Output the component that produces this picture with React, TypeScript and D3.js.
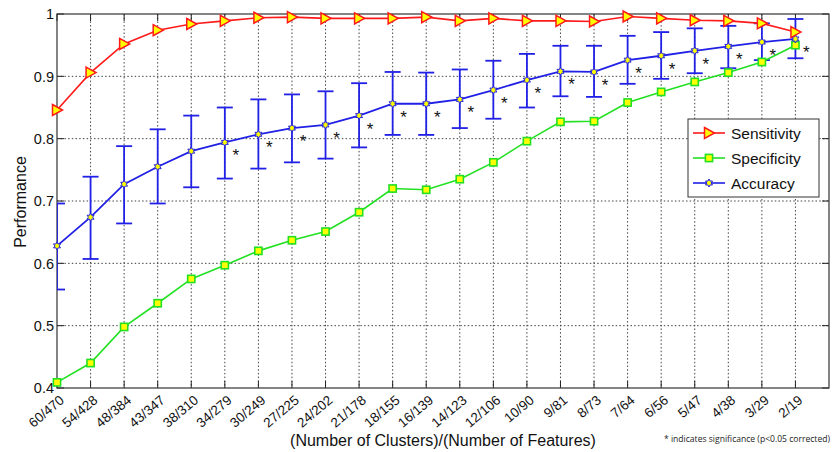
import React from 'react';
import * as d3 from 'd3';

const categories = ["60/470","54/428","48/384","43/347","38/310","34/279","30/249","27/225","24/202","21/178","18/155","16/139","14/123","12/106","10/90","9/81","8/73","7/64","6/56","5/47","4/38","3/29","2/19"];
const sensitivity = [0.846,0.906,0.952,0.974,0.984,0.989,0.994,0.995,0.993,0.993,0.993,0.995,0.989,0.993,0.989,0.989,0.988,0.996,0.993,0.990,0.989,0.985,0.971];
const specificity = [0.409,0.440,0.498,0.536,0.575,0.597,0.620,0.637,0.651,0.682,0.720,0.718,0.735,0.762,0.796,0.827,0.828,0.858,0.875,0.891,0.906,0.923,0.950];
const accuracy = [0.628,0.674,0.727,0.755,0.780,0.794,0.807,0.817,0.822,0.837,0.856,0.856,0.863,0.878,0.894,0.908,0.907,0.926,0.933,0.941,0.948,0.955,0.960];
const accuracyUpper = [0.696,0.739,0.788,0.815,0.837,0.850,0.863,0.871,0.876,0.889,0.907,0.906,0.911,0.925,0.936,0.949,0.949,0.965,0.971,0.977,0.981,0.985,0.992];
const accuracyLower = [0.558,0.607,0.664,0.696,0.722,0.736,0.752,0.762,0.768,0.786,0.806,0.806,0.817,0.832,0.850,0.868,0.867,0.888,0.896,0.905,0.913,0.926,0.929];
const significant = [false,false,false,false,false,true,true,true,true,true,true,true,true,true,true,true,true,true,true,true,true,true,true];
const yTicks = [0.4,0.5,0.6,0.7,0.8,0.9,1];
const yTickLabels = ["0.4","0.5","0.6","0.7","0.8","0.9","1"];
const legendLabels = ["Sensitivity","Specificity","Accuracy"];

const W = 837, H = 452;
const L = 57, R = 829, T = 14, B = 388;
const FONT = "'Liberation Sans', Arial, Helvetica, sans-serif";
const RED = "#ff1a1a", GREEN = "#22e022", BLUE = "#2020e6", YEL = "#ffff00";

function hexagram(r: number) {
  const pts: string[] = [];
  for (let k = 0; k < 12; k++) {
    const a = -Math.PI / 2 + (k * Math.PI) / 6;
    const rr = k % 2 === 0 ? r : r * 0.55;
    pts.push(`${(rr * Math.cos(a)).toFixed(2)},${(rr * Math.sin(a)).toFixed(2)}`);
  }
  return "M" + pts.join("L") + "Z";
}
function triRight(s: number) {
  return `M${-s * 0.45},${-s * 0.55}L${s * 0.55},0L${-s * 0.45},${s * 0.55}Z`;
}

function Marker({ kind, x, y }: { kind: string; x: number; y: number }) {
  if (kind === "tri") return <path d={triRight(10)} transform={`translate(${x},${y})`} fill={YEL} stroke={RED} strokeWidth={1.5} />;
  if (kind === "sq") return <rect x={x - 3.6} y={y - 3.6} width={7.2} height={7.2} fill={YEL} stroke={GREEN} strokeWidth={1.6} />;
  return <path d={hexagram(4)} transform={`translate(${x},${y})`} fill={YEL} stroke={BLUE} strokeWidth={1} />;
}

export default function App() {
  const x = d3.scaleLinear().domain([0, 23]).range([L, R]);
  const y = d3.scaleLinear().domain([0.4, 1]).range([B, T]);
  const idx = categories.map((_, i) => i);
  const line = d3.line<number>().x((_, i) => x(i)).y(d => y(d));
  const capW = 8;
  const grid = "#444";
  const dash = "1.5,2.2";
  const legX = 688, legY = 119, legW = 131, legH = 78;
  const legendKinds = ["tri", "sq", "hex"];
  const legendColors = [RED, GREEN, BLUE];
  return (
    <svg width={W} height={H} style={{ position: "absolute", left: 0, top: 0, background: "#fff" }} fontFamily={FONT}>
      <defs>
        <clipPath id="plotclip"><rect x={L} y={T} width={R - L} height={B - T} /></clipPath>
      </defs>
      <rect x={0} y={0} width={W} height={H} fill="#fff" />
      {/* grid */}
      {idx.slice(1).map(i => (
        <line key={"gv" + i} x1={x(i)} x2={x(i)} y1={T} y2={B} stroke={grid} strokeWidth={1} strokeDasharray={dash} />
      ))}
      {yTicks.slice(1, -1).map(v => (
        <line key={"gh" + v} x1={L} x2={R} y1={y(v)} y2={y(v)} stroke={grid} strokeWidth={1} strokeDasharray={dash} />
      ))}
      {/* ticks */}
      {idx.map(i => (
        <g key={"tx" + i}>
          <line x1={x(i)} x2={x(i)} y1={B} y2={B - 7} stroke="#222" />
          <line x1={x(i)} x2={x(i)} y1={T} y2={T + 7} stroke="#222" />
        </g>
      ))}
      {yTicks.map(v => (
        <g key={"ty" + v}>
          <line x1={L} x2={L + 7} y1={y(v)} y2={y(v)} stroke="#222" />
          <line x1={R} x2={R - 7} y1={y(v)} y2={y(v)} stroke="#222" />
        </g>
      ))}
      <rect x={L} y={T} width={R - L} height={B - T} fill="none" stroke="#333" strokeWidth={1.2} />
      {/* y tick labels */}
      {yTicks.map((v, k) => (
        <text key={"yl" + v} x={L - 3} y={y(v)} dy="0.36em" textAnchor="end" fontSize={14.5} fill="#111">{yTickLabels[k]}</text>
      ))}
      {/* x tick labels */}
      {categories.map((c, i) => (
        <text key={"xl" + i} transform={`translate(${x(i) + 5},${B + 10}) rotate(-40)`} dy="0.35em" textAnchor="end" fontSize={13.5} fill="#111">{c}</text>
      ))}
      <text x={(L + R) / 2} y={446} textAnchor="middle" fontSize={16} fill="#111">(Number of Clusters)/(Number of Features)</text>
      <text transform={`translate(26,202) rotate(-90)`} textAnchor="middle" fontSize={16} fill="#111">Performance</text>
      <text x={664} y={442} fontSize={8.8} fontFamily="'Open Sans', 'Noto Sans', sans-serif" fill="#222" textLength={166} lengthAdjust="spacingAndGlyphs">* indicates significance (p&lt;0.05 corrected)</text>
      {/* error bars */}
      <g clipPath="url(#plotclip)" stroke={BLUE} strokeWidth={1.8}>
        {idx.map(i => (
          <g key={"eb" + i}>
            <line x1={x(i)} x2={x(i)} y1={y(accuracyUpper[i])} y2={y(accuracyLower[i])} />
            <line x1={x(i) - capW} x2={x(i) + capW} y1={y(accuracyUpper[i])} y2={y(accuracyUpper[i])} />
            <line x1={x(i) - capW} x2={x(i) + capW} y1={y(accuracyLower[i])} y2={y(accuracyLower[i])} />
          </g>
        ))}
      </g>
      {/* lines */}
      <path d={line(specificity) || ""} fill="none" stroke={GREEN} strokeWidth={1.6} />
      <path d={line(accuracy) || ""} fill="none" stroke={BLUE} strokeWidth={1.8} />
      <path d={line(sensitivity) || ""} fill="none" stroke={RED} strokeWidth={1.6} />
      {idx.map(i => <Marker key={"ms" + i} kind="sq" x={x(i)} y={y(specificity[i])} />)}
      {idx.map(i => <Marker key={"ma" + i} kind="hex" x={x(i)} y={y(accuracy[i])} />)}
      {idx.map(i => <Marker key={"mt" + i} kind="tri" x={x(i)} y={y(sensitivity[i])} />)}
      {/* significance asterisks */}
      {idx.filter(i => significant[i]).map(i => (
        <text key={"st" + i} x={x(i) + 11} y={y(accuracy[i]) + 19} textAnchor="middle" fontSize={17} fill="#111">*</text>
      ))}
      {/* legend */}
      <g>
        <rect x={legX} y={legY} width={legW} height={legH} fill="#fff" stroke="#333" strokeWidth={1} />
        {legendLabels.map((lab, k) => {
          const ly = legY + 14 + k * 25;
          return (
            <g key={"lg" + k}>
              <line x1={legX + 5} x2={legX + 37} y1={ly} y2={ly} stroke={legendColors[k]} strokeWidth={1.6} />
              <Marker kind={legendKinds[k]} x={legX + 21} y={ly} />
              <text x={legX + 43} y={ly} dy="0.36em" fontSize={15.5} fill="#111">{lab}</text>
            </g>
          );
        })}
      </g>
    </svg>
  );
}
